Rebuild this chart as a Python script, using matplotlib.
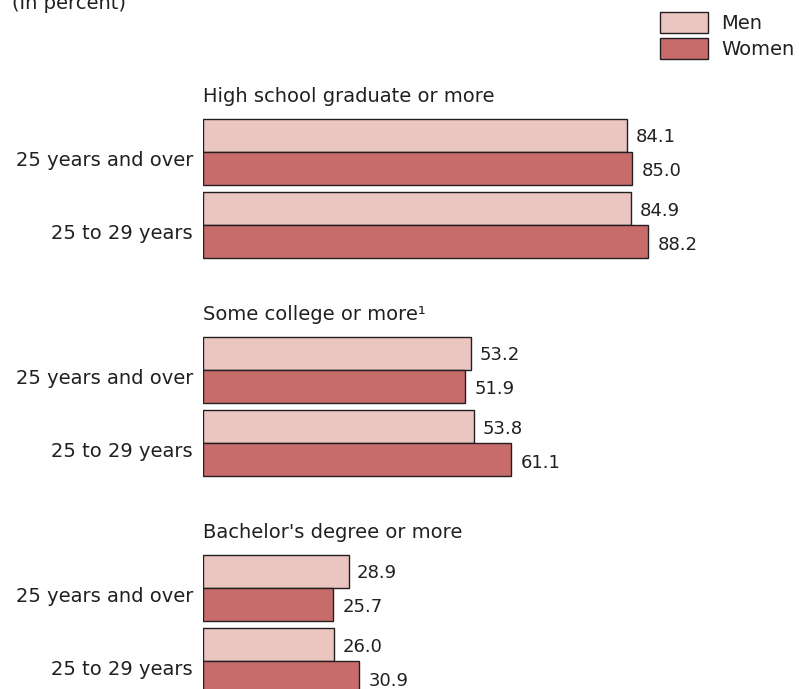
import matplotlib
matplotlib.use('Agg')
import matplotlib.pyplot as plt
from matplotlib.patches import Rectangle

groups = ['High school graduate or more', 'Some college or more\u00b9', "Bachelor's degree or more"]
ages = ['25 years and over', '25 to 29 years']
men = [[84.1, 84.9], [53.2, 53.8], [28.9, 26.0]]
women = [[85.0, 88.2], [51.9, 61.1], [25.7, 30.9]]

MEN_COLOR = '#ebc5c0'
WOMEN_COLOR = '#c76c6b'
EDGE = '#231f20'
TEXT = '#231f20'

W, H = 799, 689
fig = plt.figure(figsize=(W / 100, H / 100), dpi=100)
plt.rcParams['font.family'] = 'DejaVu Sans'

# axes spans from bar origin to right edge; y in pixel units, top = 0
x0 = 203
px_per_unit = 5.045
ax = fig.add_axes([x0 / W, 0, 1 - x0 / W, 1])
ax.set_xlim(0, (W - x0) / px_per_unit)
ax.set_ylim(H, 0)
ax.axis('off')

bar_h = 33
group_top = 119
group_step = 218
pair_step = 73
label_fs = 14
value_fs = 13

for g, title in enumerate(groups):
    top = group_top + g * group_step
    ax.text(0, top - 17, title, fontsize=label_fs, color=TEXT, va='baseline', ha='left')
    for p, age in enumerate(ages):
        ptop = top + p * pair_step
        ym = ptop + bar_h / 2
        yw = ptop + bar_h * 1.5
        ax.barh(ym, men[g][p], height=bar_h, color=MEN_COLOR, edgecolor=EDGE, linewidth=1.0)
        ax.barh(yw, women[g][p], height=bar_h, color=WOMEN_COLOR, edgecolor=EDGE, linewidth=1.0)
        ax.text(men[g][p] + 1.6, ym + 7, f'{men[g][p]:.1f}', fontsize=value_fs, color=TEXT,
                va='baseline', ha='left')
        ax.text(women[g][p] + 1.9, yw + 8, f'{women[g][p]:.1f}', fontsize=value_fs, color=TEXT,
                va='baseline', ha='left')
        fig.text((x0 - 10) / W, 1 - (ptop + bar_h + 14) / H, age, fontsize=label_fs,
                 color=TEXT, va='baseline', ha='right')

fig.text(12 / W, 1 - 9 / H, '(In percent)', fontsize=label_fs, color=TEXT, va='baseline', ha='left')

# legend
for i, (lab, col) in enumerate([('Men', MEN_COLOR), ('Women', WOMEN_COLOR)]):
    top = 12 + i * 26
    fig.patches.append(Rectangle((660 / W, 1 - (top + 21) / H), 48 / W, 21 / H,
                                 transform=fig.transFigure, facecolor=col,
                                 edgecolor=EDGE, linewidth=1.0))
    fig.text(721 / W, 1 - (top + 17) / H, lab, fontsize=label_fs, color=TEXT,
             va='baseline', ha='left')

fig.savefig('out.png', dpi=100)
